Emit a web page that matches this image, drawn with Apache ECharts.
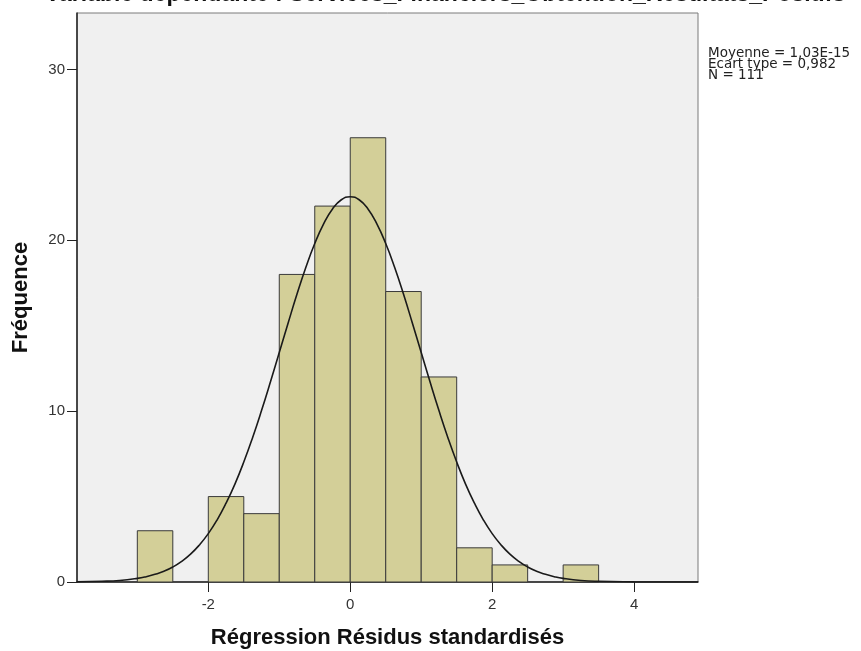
<!DOCTYPE html>
<html>
<head>
<meta charset="utf-8">
<script src="https://cdn.jsdelivr.net/npm/echarts@6/dist/echarts.min.js"></script>
<style>
  html, body { margin: 0; padding: 0; background: #fff; }
  #main { width: 861px; height: 651px; }
</style>
</head>
<body>
<div id="main"></div>
<script>
// histogram bins (width 0.5) and counts
var binStart = [-3, -2.5, -2, -1.5, -1, -0.5, 0, 0.5, 1, 1.5, 2, 2.5, 3];
var binEnd = [-2.5, -2, -1.5, -1, -0.5, 0, 0.5, 1, 1.5, 2, 2.5, 3, 3.5];
var counts = [3, 0, 5, 4, 18, 22, 26, 17, 12, 2, 1, 0, 1];

// normal curve
var curveX = [-3.85, -3.5, -3.25, -3, -2.875, -2.75, -2.625, -2.5, -2.375, -2.25, -2.125, -2, -1.875, -1.75, -1.625,
  -1.5, -1.375, -1.25, -1.125, -1, -0.875, -0.75, -0.625, -0.5, -0.375, -0.25, -0.125, 0,
  0.125, 0.25, 0.375, 0.5, 0.625, 0.75, 0.875, 1, 1.125, 1.25, 1.375, 1.5, 1.625, 1.75, 1.875,
  2, 2.125, 2.25, 2.375, 2.5, 2.625, 2.75, 2.875, 3, 3.25, 3.5, 4, 4.5, 4.9];
var curveY = [0.01, 0.04, 0.09, 0.21, 0.31, 0.45, 0.63, 0.88, 1.21, 1.63, 2.17, 2.83, 3.64, 4.61, 5.73,
  7.02, 8.46, 10.03, 11.7, 13.43, 15.16, 16.85, 18.42, 19.81, 20.96, 21.83, 22.37, 22.55,
  22.37, 21.83, 20.96, 19.81, 18.42, 16.85, 15.16, 13.43, 11.7, 10.03, 8.46, 7.02, 5.73, 4.61, 3.64,
  2.83, 2.17, 1.63, 1.21, 0.88, 0.63, 0.45, 0.31, 0.21, 0.09, 0.04, 0.01, 0, 0];

var xTicks = [-2, 0, 2, 4];
var yTicks = [0, 10, 20, 30];

var titleText = "Variable dépendante : Services_Financiers_Obtention_Resultats_Positifs";
var statsText = ["Moyenne = 1,03E-15", "Ecart type = 0,982", "N = 111"];

var chart = echarts.init(document.getElementById("main"));

var histData = [];
for (var i = 0; i < counts.length; i++) {
  histData.push([binStart[i], binEnd[i], counts[i]]);
}
var curveData = [];
for (var j = 0; j < curveX.length; j++) {
  curveData.push([curveX[j], curveY[j]]);
}

var font = "'Liberation Sans', Arial, sans-serif";

var option = {
  animation: false,
  backgroundColor: "#fff",
  grid: {
    left: 77,
    right: 163,
    top: 13,
    bottom: 69,
    containLabel: false,
    outerBoundsMode: "none",
    show: true,
    backgroundColor: "#f0f0f0",
    borderColor: "#7a7a7a",
    borderWidth: 1
  },
  graphic: [
    {
      type: "text",
      left: 45,
      top: -17,
      style: { text: titleText, font: "bold 23px " + font, fill: "#111" }
    },
    {
      type: "text",
      left: 708,
      top: 46,
      style: { text: statsText.join("\n"), font: "13.5px 'DejaVu Sans', sans-serif", fill: "#222", lineHeight: 11 }
    }
  ],
  xAxis: {
    type: "value",
    min: -3.85,
    max: 4.9,
    name: "Régression Résidus standardisés",
    nameLocation: "middle",
    nameGap: 45,
    nameTextStyle: { fontFamily: font, fontWeight: "bold", fontSize: 22, color: "#111" },
    axisLine: { show: true, onZero: false, lineStyle: { color: "#222", width: 1.5 } },
    axisTick: { show: true, length: 10, customValues: xTicks, lineStyle: { color: "#222" } },
    axisLabel: { customValues: xTicks, fontFamily: font, fontSize: 15, color: "#333", margin: 15 },
    splitLine: { show: false }
  },
  yAxis: {
    type: "value",
    min: 0,
    max: 33.3,
    name: "Fréquence",
    nameLocation: "middle",
    nameGap: 45,
    nameTextStyle: { fontFamily: font, fontWeight: "bold", fontSize: 22, color: "#111" },
    axisLine: { show: true, onZero: false, lineStyle: { color: "#222", width: 1.5 } },
    axisTick: { show: true, length: 10, customValues: yTicks, lineStyle: { color: "#222" } },
    axisLabel: { customValues: yTicks, fontFamily: font, fontSize: 15, color: "#333", margin: 12 },
    splitLine: { show: false }
  },
  series: [
    {
      type: "custom",
      data: histData,
      encode: { x: [0, 1], y: 2 },
      renderItem: function (params, api) {
        if (api.value(2) <= 0) return null;
        var p0 = api.coord([api.value(0), api.value(2)]);
        var p1 = api.coord([api.value(1), 0]);
        return {
          type: "rect",
          shape: { x: p0[0], y: p0[1], width: p1[0] - p0[0], height: p1[1] - p0[1] },
          style: { fill: "#d3cf98", stroke: "#3a3a3a", lineWidth: 1 }
        };
      }
    },
    {
      type: "line",
      data: curveData,
      smooth: true,
      symbol: "none",
      lineStyle: { color: "#1a1a1a", width: 1.6 },
      z: 5
    }
  ]
};

chart.setOption(option);
</script>
</body>
</html>
